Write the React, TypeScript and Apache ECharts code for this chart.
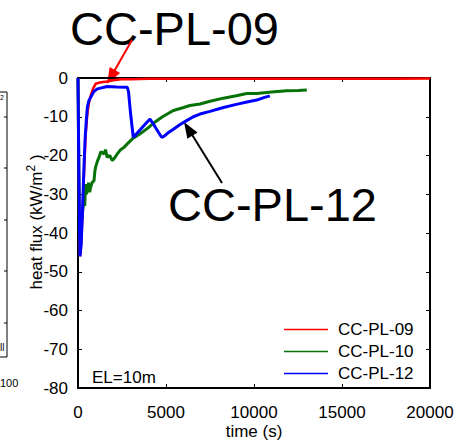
import React, { useEffect, useRef } from "react";
import * as echarts from "echarts";

const FONT = "'Liberation Sans', Arial, Helvetica, sans-serif";

const seriesNames = ["CC-PL-09", "CC-PL-10", "CC-PL-12"];
const seriesColors = ["#ff0000", "#077207", "#0000ff"];

const xTickValues = [0, 5000, 10000, 15000, 20000];
const yTickValues = [0, -10, -20, -30, -40, -50, -60, -70, -80];

const time09 = [0, 40, 80, 110, 150, 250, 340, 430, 530, 620, 720, 850, 1000, 1300, 1660, 2000, 2440, 3000, 4000, 6000, 8000, 10000, 12000, 14000, 16000, 18000, 20000];
const flux09 = [0, -20, -43, -46, -45, -36, -24.8, -15, -9.3, -6.5, -4.6, -2.8, -1.5, -1.1, -0.9, -0.6, -0.3, -0.3, -0.2, -0.2, -0.2, -0.2, -0.2, -0.2, -0.2, -0.2, -0.1];

const time10 = [0, 30, 80, 120, 180, 250, 300, 340, 380, 435, 480, 530, 600, 660, 720, 800, 910, 960, 1000, 1100, 1190, 1300, 1480, 1560, 1660, 1800, 1950, 2100, 2230, 2400, 2610, 2800, 3090, 3400, 3650, 4000, 4280, 4800, 5420, 6000, 6360, 6930, 7500, 8260, 9000, 9590, 10150, 11000, 11860, 12500, 13000];
const flux10 = [0, -15, -40.3, -42, -38, -35, -33, -31.7, -33, -27.4, -30, -29, -27, -29.5, -28.2, -27, -26.5, -24, -23, -21.5, -20.5, -19, -19.6, -18.5, -20.5, -20, -21.3, -20.5, -19.6, -18.6, -17.9, -17, -15.7, -14.8, -14, -12.8, -11.7, -10, -8.4, -7.6, -7.1, -6.7, -6, -5.2, -4.6, -4, -4, -3.6, -3.3, -3.2, -3.1];

const time12 = [0, 50, 110, 180, 250, 330, 400, 470, 530, 620, 720, 900, 1100, 1660, 2200, 2800, 2870, 2990, 3140, 3300, 3520, 3800, 4090, 4300, 4500, 4750, 4900, 5100, 5420, 5800, 6170, 6550, 6930, 7500, 8260, 9000, 9600, 10150, 10600, 10900];
const flux12 = [0, -25, -46, -43, -35, -24, -16, -11, -7.6, -5.8, -5, -3.5, -2.8, -2.2, -2.3, -2.4, -3.5, -9.3, -15.3, -14.5, -13.4, -12, -10.6, -12, -13.5, -15.3, -15, -14.2, -13.2, -12, -11, -10, -9.3, -8.6, -7.6, -6.8, -6.2, -5.7, -5, -4.6];

const pairs = (t: number[], v: number[]) => t.map((x, i) => [x, v[i]]);

function arrowHead(tip: [number, number], from: [number, number], len: number, half: number) {
  const dx = tip[0] - from[0];
  const dy = tip[1] - from[1];
  const l = Math.sqrt(dx * dx + dy * dy);
  const ux = dx / l, uy = dy / l;
  const bx = tip[0] - ux * len, by = tip[1] - uy * len;
  const px = -uy, py = ux;
  return [tip, [bx + px * half, by + py * half], [bx - px * half, by - py * half]];
}

export default function App() {
  const ref = useRef<HTMLDivElement>(null);
  useEffect(() => {
    if (!ref.current) return;
    const chart = echarts.init(ref.current, undefined, { renderer: "svg" });
    const axisLine = { show: true, onZero: false, lineStyle: { color: "#000", width: 2 } };
    const axisTick = { show: true, inside: true, length: 4, lineStyle: { color: "#000", width: 1 } };
    const label = { color: "#000", fontSize: 17, fontFamily: FONT };
    const redFrom: [number, number] = [132, 40];
    const redTip: [number, number] = [107, 84];
    const blkFrom: [number, number] = [222, 183];
    const blkTip: [number, number] = [184, 122];
    const leftTicks = [117, 168, 220, 271, 323];
    chart.setOption({
      animation: false,
      backgroundColor: "#fff",
      grid: { left: 78, top: 78, width: 352, height: 310, containLabel: false, outerBoundsMode: "none" },
      xAxis: [
        {
          type: "value", min: 0, max: 20000, interval: 5000, position: "bottom",
          axisLine, axisTick,
          axisLabel: { ...label, margin: 16, formatter: (v: number) => (xTickValues.includes(v) ? String(v) : "") },
          splitLine: { show: false },
        },
        {
          type: "value", min: 0, max: 20000, interval: 5000, position: "top",
          axisLine, axisTick, axisLabel: { show: false }, splitLine: { show: false },
        },
      ],
      yAxis: [
        {
          type: "value", min: -80, max: 0, interval: 10, position: "left",
          axisLine, axisTick,
          axisLabel: { ...label, margin: 10, formatter: (v: number) => (yTickValues.includes(v) ? String(v) : "") },
          splitLine: { show: false },
        },
        {
          type: "value", min: -80, max: 0, interval: 10, position: "right",
          axisLine, axisTick, axisLabel: { show: false }, splitLine: { show: false },
        },
      ],
      legend: {
        orient: "vertical", left: 284, top: 321, padding: 0, itemWidth: 44, itemHeight: 14, itemGap: 5,
        icon: "path://M0,0 L44,0 L44,1.5 L0,1.5 Z",
        data: seriesNames,
        textStyle: { color: "#000", fontSize: 17, fontFamily: FONT, padding: [0, 0, 0, 5] },
      },
      series: [
        { name: seriesNames[0], type: "line", data: pairs(time09, flux09), symbol: "none", lineStyle: { color: seriesColors[0], width: 2.5 }, itemStyle: { color: seriesColors[0] } },
        { name: seriesNames[1], type: "line", data: pairs(time10, flux10), symbol: "none", lineStyle: { color: seriesColors[1], width: 3 }, itemStyle: { color: seriesColors[1] } },
        { name: seriesNames[2], type: "line", data: pairs(time12, flux12), symbol: "none", lineStyle: { color: seriesColors[2], width: 3 }, itemStyle: { color: seriesColors[2] } },
      ],
      graphic: [
        {
          type: "text", x: 35, y: 222, rotation: Math.PI / 2,
          style: {
            text: "{a|heat flux (kW/m}{s|2}{a| )}",
            rich: {
              a: { fontSize: 17, fontFamily: FONT, fill: "#000", lineHeight: 20, verticalAlign: "bottom" },
              s: { fontSize: 12, fontFamily: FONT, fill: "#000", lineHeight: 20, verticalAlign: "top" },
            },
            align: "center", verticalAlign: "middle",
          },
        },
        { type: "text", x: 254, y: 431, style: { text: "time (s)", fontSize: 17, lineHeight: 17, fontFamily: FONT, fill: "#000", align: "center", verticalAlign: "middle" } },
        { type: "text", x: 92, y: 377, style: { text: "EL=10m", fontSize: 17, fontFamily: FONT, fill: "#000", align: "left", verticalAlign: "middle" } },
        { type: "text", x: 70, y: 28, style: { text: "CC-PL-09", fontSize: 47, fontFamily: FONT, fill: "#000", align: "left", verticalAlign: "middle" } },
        { type: "text", x: 168, y: 204, style: { text: "CC-PL-12", fontSize: 47, fontFamily: FONT, fill: "#000", align: "left", verticalAlign: "middle" } },
        { type: "line", shape: { x1: redFrom[0], y1: redFrom[1], x2: 112, y2: 75 }, style: { stroke: "#ff0000", lineWidth: 2 } },
        { type: "polygon", shape: { points: arrowHead(redTip, redFrom, 16, 6) }, style: { fill: "#ff0000" } },
        { type: "line", shape: { x1: blkFrom[0], y1: blkFrom[1], x2: 191, y2: 133 }, style: { stroke: "#000", lineWidth: 2 } },
        { type: "polygon", shape: { points: arrowHead(blkTip, blkFrom, 16, 6) }, style: { fill: "#000" } },
        { type: "line", shape: { x1: 7, y1: 92, x2: 7, y2: 357 }, style: { stroke: "#000", lineWidth: 1 } },
        { type: "line", shape: { x1: 0, y1: 92, x2: 7, y2: 92 }, style: { stroke: "#000", lineWidth: 1 } },
        { type: "line", shape: { x1: 0, y1: 357, x2: 7, y2: 357 }, style: { stroke: "#000", lineWidth: 1 } },
        ...leftTicks.map((y) => ({ type: "line", shape: { x1: 4, y1: y, x2: 7, y2: y }, style: { stroke: "#000", lineWidth: 1 } })),
        { type: "text", x: 0, y: 97, style: { text: "2", fontSize: 7, fontFamily: FONT, fill: "#000", align: "left", verticalAlign: "middle" } },
        { type: "text", x: 0, y: 347, style: { text: "ll", fontSize: 10, fontFamily: FONT, fill: "#000", align: "left", verticalAlign: "middle" } },
        { type: "text", x: 0, y: 383, style: { text: "100", fontSize: 11, fontFamily: FONT, fill: "#000", align: "left", verticalAlign: "middle" } },
      ],
    });
    return () => chart.dispose();
  }, []);
  return <div ref={ref} style={{ position: "absolute", left: 0, top: 0, width: 474, height: 442 }} />;
}
